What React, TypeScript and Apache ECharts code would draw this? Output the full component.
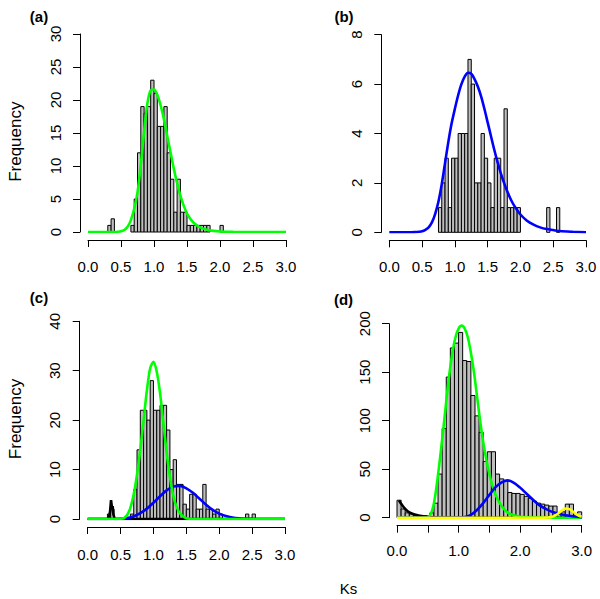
import React, { useEffect, useRef } from "react";
import * as echarts from "echarts";

// ---------- data ----------
// (a) histogram: bins of width 0.05 starting at 0.30
const aStart = 0.3;
const aWidth = 0.05;
const aCounts = [1, 2, 0, 0, 0, 0, 0, 1, 5, 12, 19, 18, 19, 23, 21, 16, 16, 19, 12, 8, 3, 8, 3, 3, 1, 1, 1, 1, 1, 1, 1, 0, 0, 0, 1];
const aGreen = [[0, 0], [0.1, 0], [0.2, 0], [0.3, 0], [0.4, 0], [0.45, 0.03], [0.5, 0.1], [0.55, 0.3], [0.6, 0.8], [0.65, 1.8], [0.7, 3.5], [0.75, 6], [0.8, 10.2], [0.85, 15.2], [0.9, 19.5], [0.95, 21.5], [1.0, 21.6], [1.05, 20.8], [1.1, 19.2], [1.15, 17.1], [1.2, 14.6], [1.25, 12.1], [1.3, 9.6], [1.35, 7.4], [1.4, 5.5], [1.45, 4.0], [1.5, 2.8], [1.55, 2.0], [1.6, 1.4], [1.65, 1.0], [1.7, 0.7], [1.8, 0.35], [1.9, 0.17], [2.0, 0.08], [2.1, 0.04], [2.2, 0.02], [2.4, 0], [2.6, 0], [2.8, 0], [3.0, 0]];

// (b) histogram: bins of width 0.05 starting at 0.75
const bStart = 0.75;
const bWidth = 0.05;
const bCounts = [1, 2, 3, 1, 3, 3, 4, 4, 4, 7, 6, 2, 2, 4, 3, 2, 1, 3, 3, 1, 5, 1, 1, 1, 1, 0, 0, 0, 0, 0, 0, 0, 0, 1, 0, 0, 1];
const bBlue = [[0, 0], [0.1, 0], [0.2, 0], [0.3, 0], [0.4, 0.01], [0.45, 0.02], [0.5, 0.04], [0.55, 0.1], [0.6, 0.2], [0.65, 0.4], [0.7, 0.75], [0.75, 1.25], [0.8, 1.95], [0.85, 2.8], [0.9, 3.65], [0.95, 4.4], [1.0, 5.0], [1.05, 5.55], [1.1, 6.0], [1.15, 6.3], [1.2, 6.46], [1.25, 6.42], [1.3, 6.2], [1.35, 5.9], [1.4, 5.5], [1.45, 5.0], [1.5, 4.45], [1.55, 3.9], [1.6, 3.35], [1.65, 2.85], [1.7, 2.4], [1.75, 2.0], [1.8, 1.65], [1.85, 1.35], [1.9, 1.1], [2.0, 0.72], [2.1, 0.47], [2.2, 0.31], [2.3, 0.2], [2.4, 0.13], [2.5, 0.09], [2.6, 0.05], [2.8, 0.02], [3.0, 0]];

// (c) histogram: bins of width 0.05 starting at 0.30
const cStart = 0.3;
const cWidth = 0.05;
const cCounts = [1, 2, 0, 0, 0, 0, 0, 1, 6, 14, 22, 22, 20, 28, 22, 22, 23, 23, 18, 10, 12, 7, 7, 3, 2, 5, 5, 2, 2, 7, 2, 2, 1, 2, 1, 0, 0, 0, 0, 0, 0, 0, 1, 0, 1];
const cBlack = [[0, 0], [0.3, 0], [0.32, 0.1], [0.34, 1.5], [0.355, 3.8], [0.37, 2.2], [0.38, 2.6], [0.39, 1.0], [0.41, 0], [3.0, 0]];
const cBlue = [[0, 0], [0.1, 0], [0.2, 0], [0.3, 0], [0.4, 0.01], [0.5, 0.05], [0.6, 0.2], [0.7, 0.55], [0.8, 1.2], [0.9, 2.1], [1.0, 3.3], [1.1, 4.6], [1.2, 5.8], [1.3, 6.55], [1.4, 6.7], [1.5, 6.2], [1.6, 5.3], [1.7, 4.1], [1.8, 2.9], [1.9, 1.85], [2.0, 1.1], [2.1, 0.6], [2.2, 0.3], [2.3, 0.13], [2.4, 0.05], [2.5, 0.02], [2.6, 0], [2.7, 0], [2.8, 0], [2.9, 0], [3.0, 0]];
const cGreen = [[0, 0], [0.1, 0], [0.2, 0], [0.3, 0], [0.4, 0], [0.45, 0.01], [0.5, 0.05], [0.55, 0.2], [0.6, 0.8], [0.65, 2.3], [0.7, 5], [0.75, 9], [0.8, 14], [0.85, 20], [0.9, 26], [0.95, 30.5], [1.0, 31.8], [1.05, 29.8], [1.1, 25.5], [1.15, 19.5], [1.2, 13.5], [1.25, 8.5], [1.3, 4.8], [1.35, 2.5], [1.4, 1.2], [1.45, 0.5], [1.5, 0.15], [1.55, 0.05], [1.6, 0], [1.8, 0], [2.0, 0], [2.2, 0], [2.4, 0], [2.6, 0], [2.8, 0], [3.0, 0]];

// (d) histogram: bins of width 1/15 starting at 0
const dStart = 0;
const dWidth = 1 / 15;
const dCounts = [18, 9, 5, 4, 2, 2, 2, 2, 5, 15, 45, 92, 145, 175, 180, 191, 162, 161, 126, 105, 88, 58, 68, 68, 45, 40, 38, 26, 25, 25, 24, 22, 20, 17, 15, 14, 13, 12, 12, 5, 6, 14, 14, 4, 6];
const dBlack = [[0.03, 17.5], [0.05, 16], [0.1, 11.5], [0.15, 8], [0.2, 5.6], [0.25, 4.1], [0.3, 3], [0.35, 2.2], [0.4, 1.6], [0.45, 1.15], [0.5, 0.8], [0.6, 0.4], [0.7, 0.2], [0.8, 0.1], [0.9, 0.04], [1.0, 0], [1.5, 0], [2.0, 0], [2.5, 0], [3.0, 0]];
const dGreen = [[0, 0], [0.1, 0], [0.2, 0], [0.3, 0], [0.4, 0], [0.45, 0.1], [0.5, 0.6], [0.55, 4], [0.6, 15], [0.65, 36], [0.7, 62], [0.75, 90], [0.8, 120], [0.85, 148], [0.9, 170], [0.95, 186], [1.0, 195], [1.05, 198], [1.1, 195], [1.15, 186], [1.2, 170], [1.25, 150], [1.3, 125], [1.35, 100], [1.4, 78], [1.45, 60], [1.5, 45], [1.55, 33], [1.6, 24], [1.65, 17], [1.7, 12], [1.75, 8], [1.8, 5.2], [1.85, 3.5], [1.9, 2.4], [2.0, 1], [2.1, 0.3], [2.2, 0.1], [2.4, 0], [2.6, 0], [2.8, 0], [3.0, 0]];
const dBlue = [[0, 0], [0.2, 0], [0.4, 0], [0.6, 0], [0.8, 0], [0.9, 0], [1.0, 0.1], [1.1, 0.6], [1.2, 3], [1.3, 8], [1.4, 15], [1.5, 23.5], [1.6, 31.5], [1.7, 36.5], [1.8, 38.5], [1.9, 36], [2.0, 31], [2.1, 25], [2.2, 19], [2.3, 13.5], [2.4, 9.5], [2.5, 6.5], [2.6, 4.5], [2.7, 3], [2.8, 2], [2.9, 1.2], [3.0, 0.6]];
const dYellow = [[0, 0], [0.5, 0], [1.0, 0], [1.5, 0], [2.0, 0], [2.3, 0], [2.4, 0.05], [2.45, 0.2], [2.5, 0.6], [2.55, 1.6], [2.6, 3.5], [2.65, 6], [2.7, 8.4], [2.75, 9.5], [2.8, 8.8], [2.85, 6.6], [2.9, 4.2], [2.95, 2.2], [3.0, 0.9]];

const xTicks = { min: 0, max: 3, interval: 0.5 };
const yMaxA = 30, yStepA = 5;
const yMaxB = 8, yStepB = 2;
const yMaxC = 40, yStepC = 10;
const yMaxD = 200, yStepD = 50;

const FONT = "'Liberation Sans', Arial, Helvetica, sans-serif";

function hist(start: number, width: number, counts: number[]) {
  const out: number[][] = [];
  counts.forEach((c, i) => {
    if (c > 0) out.push([start + i * width, start + (i + 1) * width, c]);
  });
  return out;
}

const grids = [
  { left: 88, top: 34, width: 198, height: 198 },
  { left: 389.3, top: 34.7, width: 196.7, height: 197.6 },
  { left: 87.7, top: 321.3, width: 197.3, height: 197.7 },
  { left: 397, top: 323.7, width: 184.7, height: 194 },
];

function xAxis(i: number, onlyInt: boolean, margin: number) {
  return {
    gridIndex: i,
    type: "value",
    min: xTicks.min,
    max: xTicks.max,
    interval: xTicks.interval,
    offset: 8,
    axisLine: { show: true, onZero: false, lineStyle: { color: "#000", width: 1 } },
    axisTick: { show: true, length: 7, lineStyle: { color: "#000" } },
    splitLine: { show: false },
    axisLabel: {
      show: true,
      margin,
      fontSize: 15,
      fontFamily: FONT,
      color: "#000",
      align: "center",
      verticalAlign: "middle",
      formatter: (v: number) => (onlyInt && Math.abs(v - Math.round(v)) > 1e-6 ? "" : v.toFixed(1)),
    },
  };
}

function yAxis(i: number, max: number, step: number) {
  return {
    gridIndex: i,
    type: "value",
    min: 0,
    max,
    interval: step,
    offset: 8,
    axisLine: { show: true, onZero: false, lineStyle: { color: "#000", width: 1 } },
    axisTick: { show: true, length: 7, lineStyle: { color: "#000" } },
    splitLine: { show: false },
    axisLabel: {
      show: true,
      rotate: 90,
      align: "center",
      verticalAlign: "middle",
      margin: 25,
      fontSize: 15,
      fontFamily: FONT,
      color: "#000",
    },
  };
}

function histSeries(i: number, data: number[][]) {
  return {
    type: "custom",
    xAxisIndex: i,
    yAxisIndex: i,
    encode: { x: [0, 1], y: 2 },
    data,
    z: 1,
    renderItem: (params: any, api: any) => {
      const p0 = api.coord([api.value(0), api.value(2)]);
      const p1 = api.coord([api.value(1), 0]);
      return {
        type: "rect",
        shape: { x: p0[0], y: p0[1], width: p1[0] - p0[0], height: p1[1] - p0[1] },
        style: { fill: "#bebebe", stroke: "#000", lineWidth: 1 },
      };
    },
  };
}

function lineSeries(i: number, data: number[][], color: string, z: number, smooth: boolean | number = 0.3) {
  return {
    type: "line",
    xAxisIndex: i,
    yAxisIndex: i,
    data,
    showSymbol: false,
    symbol: "none",
    smooth,
    z,
    lineStyle: { color, width: 2.6 },
    silent: true,
  };
}

function text(x: number, y: number, t: string, size: number, bold = false, rotation = 0) {
  return {
    type: "text",
    x,
    y,
    rotation,
    style: {
      text: t,
      fontSize: size,
      fontWeight: bold ? "bold" : "normal",
      fontFamily: FONT,
      fill: "#000",
      align: "center",
      verticalAlign: "middle",
    },
  };
}

export default function App() {
  const ref = useRef<HTMLDivElement>(null);
  useEffect(() => {
    if (!ref.current) return;
    const chart = echarts.init(ref.current, undefined, { renderer: "svg" });
    chart.setOption({
      animation: false,
      backgroundColor: "#fff",
      grid: grids,
      xAxis: [xAxis(0, false, 26), xAxis(1, false, 26), xAxis(2, false, 27.5), xAxis(3, true, 25)],
      yAxis: [yAxis(0, yMaxA, yStepA), yAxis(1, yMaxB, yStepB), yAxis(2, yMaxC, yStepC), yAxis(3, yMaxD, yStepD)],
      series: [
        histSeries(0, hist(aStart, aWidth, aCounts)),
        lineSeries(0, aGreen, "#00ff00", 5),
        histSeries(1, hist(bStart, bWidth, bCounts)),
        lineSeries(1, bBlue, "#0000ff", 5),
        histSeries(2, hist(cStart, cWidth, cCounts)),
        lineSeries(2, cBlack, "#000000", 3, false),
        lineSeries(2, cBlue, "#0000ff", 4),
        lineSeries(2, cGreen, "#00ff00", 5),
        histSeries(3, hist(dStart, dWidth, dCounts)),
        lineSeries(3, dBlack, "#000000", 3),
        lineSeries(3, dGreen, "#00ff00", 4),
        lineSeries(3, dBlue, "#0000ff", 5),
        lineSeries(3, dYellow, "#ffff00", 6),
      ],
      graphic: [
        text(39, 16, "(a)", 15, true),
        text(344, 16, "(b)", 15, true),
        text(39, 297.5, "(c)", 15, true),
        text(343.5, 299, "(d)", 15, true),
        text(15, 141.7, "Frequency", 17, false, Math.PI / 2),
        text(15, 419, "Frequency", 17, false, Math.PI / 2),
        text(348.5, 588, "Ks", 15),
      ],
    });
    return () => chart.dispose();
  }, []);
  return (
    <div
      ref={ref}
      style={{ position: "fixed", left: 0, top: 0, width: 600, height: 599, background: "#fff" }}
    />
  );
}
